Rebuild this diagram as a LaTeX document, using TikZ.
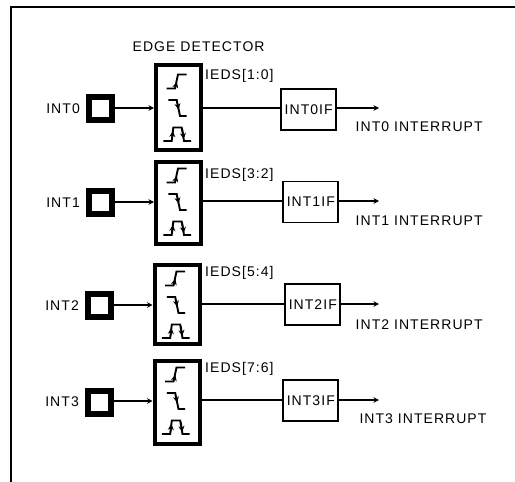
\documentclass[tikz,border=0pt]{standalone}
\usepackage{fontspec}
\setmainfont[LetterSpace=7.5]{Liberation Sans}
\usetikzlibrary{positioning,arrows.meta}
\tikzset{
  pinbox/.style  = {draw, line width=6pt, minimum width=23pt, minimum height=23pt, inner sep=0pt},
  detect/.style  = {draw, line width=4pt, minimum width=45pt, inner sep=0pt},
  flagbox/.style = {draw, line width=1.8pt, minimum width=55pt, minimum height=41pt, inner sep=0pt, font=\fontsize{14}{16}\selectfont},
  lbl/.style     = {inner sep=0pt, font=\fontsize{14}{16}\selectfont},
  wire/.style    = {line width=1.6pt},
  arrow/.style   = {-{Stealth[length=5.5pt,width=5.5pt]}, line width=1.5pt},
  stepline/.style = {line width=1.9pt},
  tipline/.style  = {-{Stealth[length=6pt,width=6pt]}, line width=1.5pt},
  edges/.pic = {
    % rising
    \draw[stepline] (-11.8,-19.5) -- (-3.5,-19.5) -- (-0.5,-33.5) -- (8.2,-33.5);
    \draw[tipline] (-3,-21) -- (-1.6,-26);
    % falling
    \draw[stepline] (-10.2,-8) -- (-1.8,-8) -- (1.5,8) -- (8.2,8);
    \draw[tipline] (-1.5,-6) -- (0.2,1.5);
    % pulse
    \draw[stepline] (-15.2,33) -- (-6.8,33) -- (-5.2,19.5) -- (3.2,19.5) -- (5.5,33) -- (12.5,33);
    \draw[tipline] (-6.4,31) -- (-5.6,23);
    \draw[tipline] (3.8,21) -- (5.3,31);
  },
}
\begin{document}
\begin{tikzpicture}[x=1pt,y=-1pt]
  \useasboundingbox (0,0) rectangle (515,482);
  \draw[line width=2.2pt] (515,6.7) -- (11,6.7) -- (11,482);
  \node[lbl, anchor=west] (title) at (132.5,47) {EDGE DETECTOR};

  % row / pin x,y / detector x,y,height / in,out wire / flag x,y / text x,y / ieds y / bits
  \foreach \i/\px/\py/\dx/\dy/\dh/\wi/\wo/\fx/\fy/\tx/\ty/\iy/\hi/\lo in {
    0/100.5/108.5/178.5/107.5/85/108/108/308.7/109.8/355.5/127/76/1/0,
    1/100.5/202.5/178.5/203/82/202/201/310.8/202/355.5/221/175/3/2,
    2/99.5/305.5/177/304.5/79.5/305/304/312.8/304.3/355.5/325/273/5/4,
    3/99.5/402/177/402.3/82.5/401/400/310.8/400.8/359.3/419/369/7/6} {
    \node[pinbox] (pin\i) at (\px,\py) {};
    \node[detect, minimum height=\dh pt] (det\i) at (\dx,\dy) {};
    \node[flagbox] (flag\i) at (\fx,\fy) {INT\i IF};
    \node[lbl, left=6pt of pin\i] (name\i) {INT\i};
    \node[lbl, anchor=west] (ieds\i) at (205,\iy) {IEDS[\hi:\lo]};
    \node[lbl, anchor=west] (irq\i) at (\tx,\ty) {INT\i{} INTERRUPT};
    \coordinate (in\i) at (\dx,\wi);
    \coordinate (out\i) at (379,\wo);
    \pic at (in\i) {edges};
    \draw[arrow] (pin\i.east |- in\i) -- (det\i.west |- in\i);
    \draw[wire] (det\i.east |- out\i) -- (flag\i.west |- out\i);
    \draw[arrow] (flag\i.east |- out\i) -- (out\i);
  }
\end{tikzpicture}
\end{document}
